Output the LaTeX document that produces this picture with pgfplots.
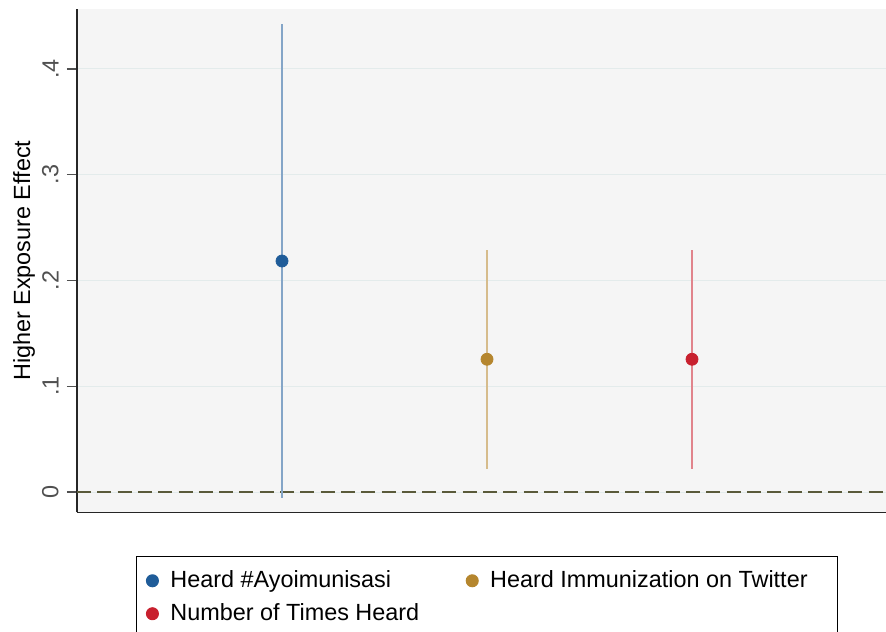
\documentclass[border=0pt]{standalone}
\usepackage{pgfplots}
\pgfplotsset{compat=1.18}
\usepackage{fontspec}
\setmainfont{Liberation Sans}

\definecolor{cblue}{HTML}{1F5C99}
\definecolor{cgold}{HTML}{B5862E}
\definecolor{cred}{HTML}{C8202E}
\definecolor{plotbg}{HTML}{F5F5F5}
\definecolor{gridc}{HTML}{E3EBEB}
\definecolor{zeroline}{HTML}{5A5A3A}
\definecolor{tickgray}{HTML}{505050}

\begin{document}
\begin{tikzpicture}
\begin{axis}[
    name=ax,
    scale only axis,
    width=410pt, height=251.65pt,
    xmin=0, xmax=4,
    ymin=-0.0192, ymax=0.4567,
    axis x line*=bottom, axis y line*=left,
    axis line style={black!85, line width=0.7pt, -},
    axis background/.style={fill=plotbg},
    xtick=\empty,
    ytick={0,0.1,0.2,0.3,0.4},
    yticklabels={0,.1,.2,.3,.4},
    tick align=outside,
    major tick length=5pt,
    ytick style={tickgray, line width=0.6pt},
    yticklabel style={rotate=90, anchor=south, inner sep=0pt, yshift=4pt, text=tickgray, font=\fontsize{11.7}{14}\selectfont},
    ymajorgrids,
    grid style={gridc, line width=0.5pt},
    ylabel={Higher Exposure Effect},
    ylabel style={font=\fontsize{11.7}{14}\selectfont},
    legend columns=2,
    legend cell align=left,
    legend style={
        at={(0.5,-0.0874)}, anchor=north,
        draw=black, line width=0.5pt, fill=white,
        font=\fontsize{11.7}{14}\selectfont,
        inner xsep=5pt, inner ysep=5pt,
        row sep=2.5pt,
        /tikz/every odd column/.append style={column sep=4pt},
        /tikz/every even column/.append style={column sep=21.5pt},
    },
    legend image code/.code={\draw[#1] plot coordinates {(0pt,0pt)};},
    clip=false,
]
\addplot[zeroline, line width=1pt, dash pattern=on 7pt off 3.15pt, forget plot]
    coordinates {(0,0) (4,0)};

\addplot[only marks, mark=*, mark size=3pt, color=cblue,
    error bars/.cd, y dir=both, y explicit,
    error bar style={color=cblue!55!white, line width=1pt}, error mark=none]
    coordinates {(1,0.2184) +- (0,0.2242)};
\addlegendentry{Heard \#Ayoimunisasi}

\addplot[only marks, mark=*, mark size=3pt, color=cgold,
    error bars/.cd, y dir=both, y explicit,
    error bar style={color=cgold!55!white, line width=1pt}, error mark=none]
    coordinates {(2,0.1255) +- (0,0.1037)};
\addlegendentry{Heard Immunization on Twitter\kern8pt}

\addplot[only marks, mark=*, mark size=3pt, color=cred,
    error bars/.cd, y dir=both, y explicit,
    error bar style={color=cred!55!white, line width=1pt}, error mark=none]
    coordinates {(3,0.1255) +- (0,0.1037)};
\addlegendentry{Number of Times Heard}
\end{axis}
\pgfresetboundingbox
\path ([shift={(-38.5pt,4.5pt)}]ax.north west) rectangle ++(443pt,-315.5pt);
\end{tikzpicture}
\end{document}
